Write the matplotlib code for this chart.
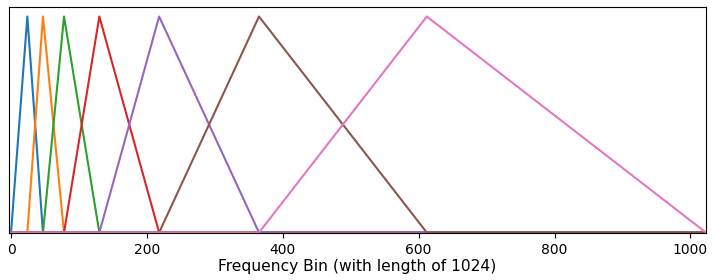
import matplotlib
matplotlib.use("Agg")
import matplotlib.pyplot as plt
import numpy as np

# filter edge/center points (bins)
points = [0, 24, 47, 78, 130, 218, 365, 612, 1023]
n_bins = 1024
colors = ["#1f77b4", "#ff7f0e", "#2ca02c", "#d62728", "#9467bd", "#8c564b", "#e377c2"]

fig = plt.figure(figsize=(7.13, 2.8), dpi=100)
ax = fig.add_axes([9/713, 1-233/280, 697/713, 226/280])
for i in range(len(points) - 2):
    l, c, r = points[i], points[i+1], points[i+2]
    xs = [0, l, c, r, n_bins - 1]
    ys = [0, 0, 1, 0, 0]
    ax.plot(xs, ys, color=colors[i], lw=1.5)
ax.set_xlim(-3, 1023)
ax.set_ylim(-0.002, 1.044)
ax.set_yticks([])
ax.set_xticks([0, 200, 400, 600, 800, 1000])
ax.set_xlabel("Frequency Bin (with length of 1024)", fontsize=11.2, labelpad=2)
fig.savefig("out.png", dpi=100)
